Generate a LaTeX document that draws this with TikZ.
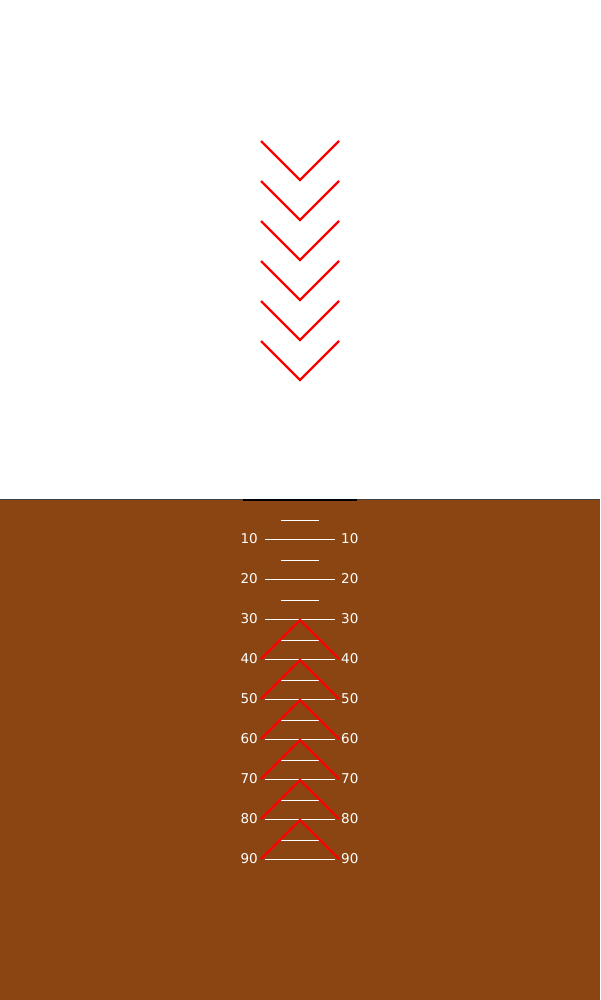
\documentclass[tikz,border=0pt]{standalone}
\usepackage{fontspec}
\setmainfont{DejaVu Sans}
\definecolor{ground}{HTML}{8B4513}
\begin{document}
\begin{tikzpicture}[x=1pt,y=-1pt,
  chev/.style={red,line width=2.2pt,line join=miter},
  major/.style={white,line width=1pt},
  minor/.style={white,line width=1pt},
  lbl/.style={text=white,font=\fontsize{13.5}{14}\selectfont,inner sep=0pt}]
\useasboundingbox (0,0) rectangle (600,1000);
\fill[white] (0,0) rectangle (600,1000);
\fill[ground] (0,500) rectangle (600,1000);
\draw[black!75,line width=1pt] (0,499.5) -- (600,499.5);
\draw[black,line width=2pt] (243,500) -- (357,500);
% top chevrons
\foreach \i in {0,...,5}{
  \coordinate (vl\i) at (261,141+40*\i);
  \coordinate (vt\i) at (300,180+40*\i);
  \coordinate (vr\i) at (339,141+40*\i);
  \draw[chev] (vl\i) -- (vt\i) -- (vr\i);
}
% ladder
\foreach \i in {0,...,8}{
  \coordinate (ma\i) at (281,520+40*\i);
  \coordinate (mb\i) at (319,520+40*\i);
  \draw[minor] (ma\i) -- (mb\i);
}
\foreach \v [count=\i from 0] in {10,20,...,90}{
  \coordinate (Ma\i) at (265,539+40*\i);
  \coordinate (Mb\i) at (335,539+40*\i);
  \draw[major] (Ma\i) -- (Mb\i);
  \node[lbl,anchor=east] (L\i) at (258,539+40*\i) {\v};
  \node[lbl,anchor=west] (R\i) at (341,539+40*\i) {\v};
}
% bottom chevrons
\foreach \i in {0,...,5}{
  \coordinate (al\i) at (261,659+40*\i);
  \coordinate (at\i) at (300,620+40*\i);
  \coordinate (ar\i) at (339,659+40*\i);
  \draw[chev] (al\i) -- (at\i) -- (ar\i);
}
\end{tikzpicture}
\end{document}
